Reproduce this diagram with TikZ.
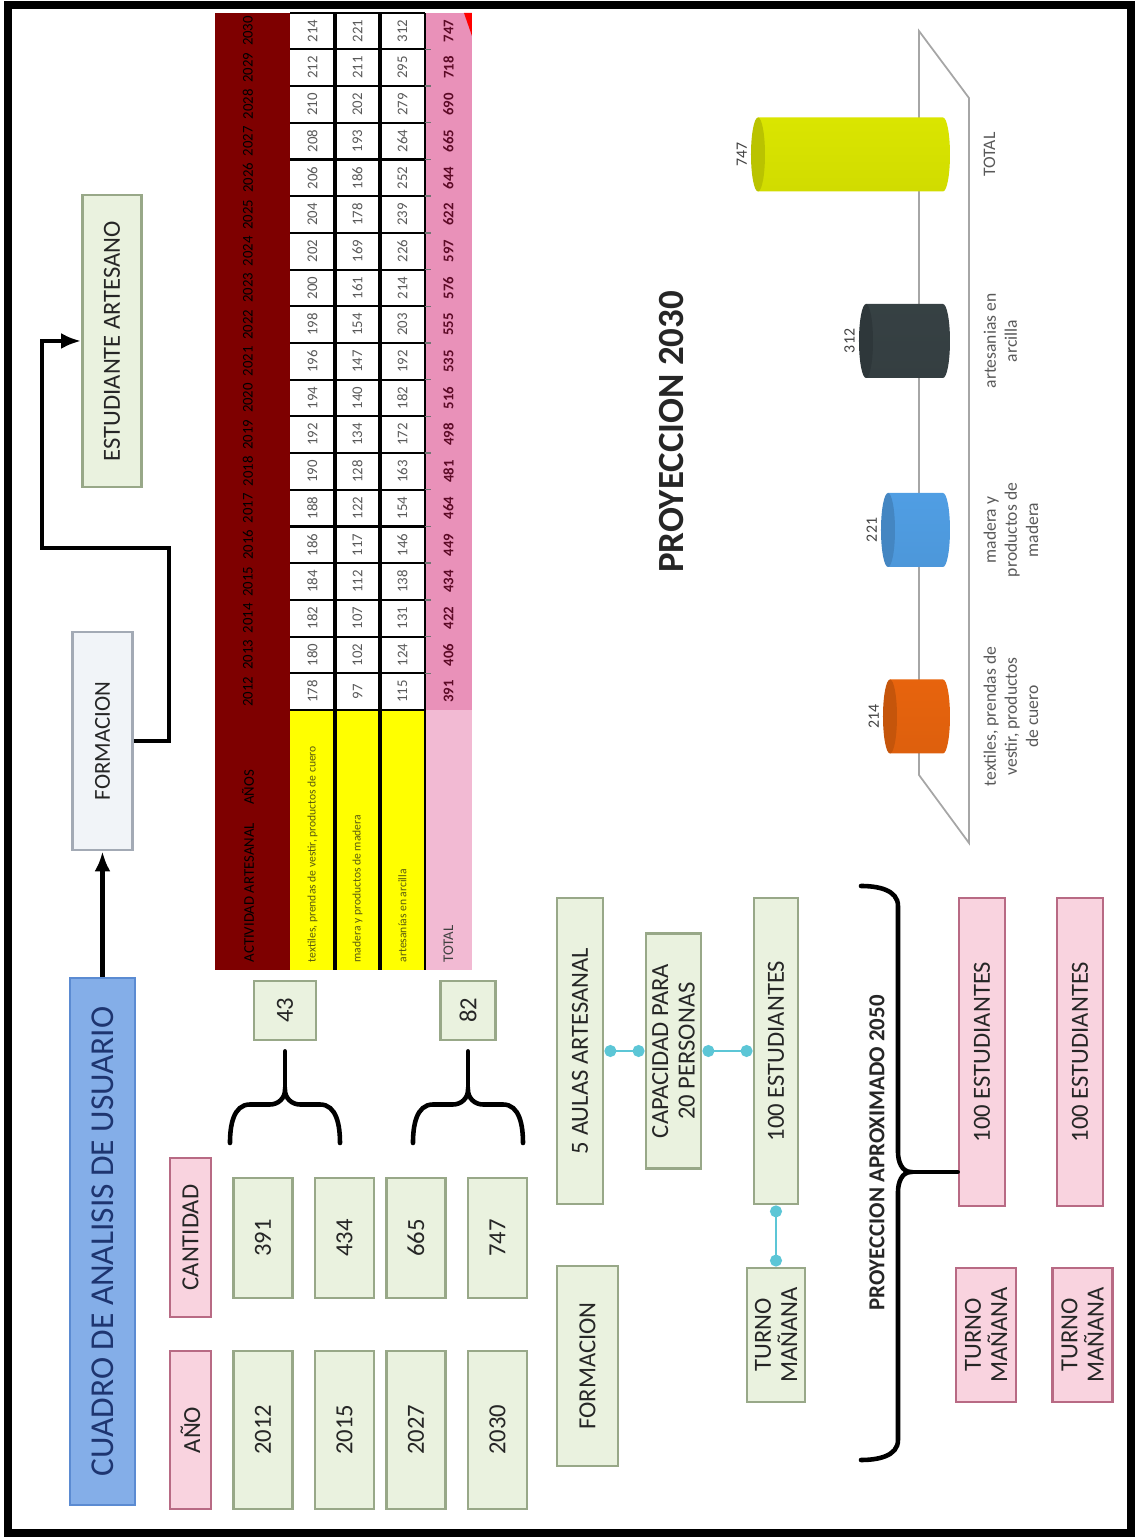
\documentclass[tikz,border=0pt]{standalone}
\usepackage{fontspec}
\setmainfont{Carlito}
\usetikzlibrary{arrows.meta}

\definecolor{azulF}{HTML}{84AEE8}
\definecolor{azulB}{HTML}{5B8BD2}
\definecolor{azulT}{HTML}{1E3570}
\definecolor{verdeF}{HTML}{EAF2DF}
\definecolor{verdeB}{HTML}{98A888}
\definecolor{rosaF}{HTML}{F9D3DF}
\definecolor{rosaB}{HTML}{B86A84}
\definecolor{grisF}{HTML}{F1F4F8}
\definecolor{grisB}{HTML}{A3AAB5}
\definecolor{vino}{HTML}{7E0000}
\definecolor{amarillo}{HTML}{FFFF00}
\definecolor{oliva}{HTML}{5A5A10}
\definecolor{rosaT}{HTML}{E991B9}
\definecolor{rosaL}{HTML}{F2BAD3}
\definecolor{granate}{HTML}{5C0A26}
\definecolor{cian}{HTML}{5CC6D6}
\definecolor{naranja}{HTML}{F66A0E}
\definecolor{celeste}{HTML}{55A8F2}
\definecolor{pizarra}{HTML}{3A4548}
\definecolor{lima}{HTML}{E8F400}

\tikzset{
  caja/.style={draw, line width=0.8pt, inner sep=1pt, align=center, text=black!85,
    font=\fontsize{7}{7.5}\selectfont},
  verde/.style={caja, fill=verdeF, draw=verdeB},
  rosa/.style={caja, fill=rosaF, draw=rosaB},
  flecha/.style={line width=1.2pt, -{Latex[length=2mm,width=1.6mm]}},
  enlace/.style={cian, line width=0.6pt, {Circle[length=1.2mm]}-{Circle[length=1.2mm]}},
  llave/.style={line width=1.3pt, line cap=round},
  celda/.style={font=\fontsize{4.2}{4.2}\selectfont, text=black!65, inner sep=0pt},
}

\begin{document}
\begin{tikzpicture}[rotate=90, transform shape]
\useasboundingbox (0,0) rectangle (15.38,11.38);
\draw[line width=2pt] (0.05,0.07) rectangle (15.33,11.30);

% cabecera
\node[caja, fill=azulF, draw=azulB, text=azulT, minimum width=5.27cm, minimum height=0.65cm,
  font=\fontsize{9.5}{10}\selectfont] (titulo) at (2.965,10.355) {CUADRO DE ANALISIS DE USUARIO};
\node[caja, fill=grisF, draw=grisB, minimum width=2.18cm, minimum height=0.6cm,
  font=\fontsize{6.5}{7}\selectfont] (form1) at (7.97,10.355) {FORMACION};
\node[verde, minimum width=2.92cm, minimum height=0.59cm] (estud) at (11.97,10.26) {ESTUDIANTE ARTESANO};
\coordinate (codo) at (9.90,10.96);
\draw[flecha] (titulo.east) -- (form1.west);
\draw[flecha] (form1.south) -- ++(0,-0.35) -| (codo) -| (estud.north);

% tabla
\fill[vino] (5.68,8.48) rectangle (15.25,9.23);
\fill[amarillo] (5.68,7.13) rectangle (8.28,8.48);
\fill[white] (8.28,7.13) rectangle (15.25,8.48);
\fill[rosaL] (5.68,6.66) rectangle (8.28,7.13);
\fill[rosaT] (8.28,6.66) rectangle (15.25,7.13);
\foreach \y in {7.58,8.03}
  \draw[line width=1pt] (5.68,\y) -- (15.25,\y);
\draw[line width=0.6pt] (5.68,7.13) -- (15.25,7.13);
\foreach \k in {0,...,19}
  \draw[line width=0.6pt] ({8.28+0.367*\k},7.13) -- ({8.28+0.367*\k},8.48);
\foreach \k in {1,...,18}
  \draw[black!55, line width=0.4pt] ({8.28+0.367*\k},7.13) -- ++(0,-0.06);
\fill[red] (15.25,6.66) -- (15.25,6.74) -- (15.02,6.66) -- cycle;

\node[celda, text=black, anchor=west] at (5.75,8.9) {ACTIVIDAD ARTESANAL \quad AÑOS};
\foreach \yr [count=\k from 0] in {2012,...,2030}
  \node[celda, text=black] at ({8.4635+0.367*\k},8.9) {\yr};
\node[celda, text=oliva, anchor=west, font=\fontsize{3.3}{3.3}\selectfont] at (5.75,8.255)
  {textiles, prendas de vestir, productos de cuero};
\node[celda, text=oliva, anchor=west, font=\fontsize{3.3}{3.3}\selectfont] at (5.75,7.805)
  {madera y productos de madera};
\node[celda, text=oliva, anchor=west, font=\fontsize{3.3}{3.3}\selectfont] at (5.75,7.355)
  {artesanías en arcilla};
\node[celda, text=black!75, anchor=west] at (5.75,6.895) {TOTAL};
\foreach \val [count=\k from 0] in {178,180,182,184,186,188,190,192,194,196,198,200,202,204,206,208,210,212,214}
  \node[celda] at ({8.4635+0.367*\k},8.255) {\val};
\foreach \val [count=\k from 0] in {97,102,107,112,117,122,128,134,140,147,154,161,169,178,186,193,202,211,221}
  \node[celda] at ({8.4635+0.367*\k},7.805) {\val};
\foreach \val [count=\k from 0] in {115,124,131,138,146,154,163,172,182,192,203,214,226,239,252,264,279,295,312}
  \node[celda] at ({8.4635+0.367*\k},7.355) {\val};
\foreach \val [count=\k from 0] in {391,406,422,434,449,464,481,498,516,535,555,576,597,622,644,665,690,718,747}
  \node[celda, text=granate] at ({8.4635+0.367*\k},6.895) {\textbf{\val}};

% anio y cantidad
\node[rosa, minimum width=1.58cm, minimum height=0.41cm] (anio) at (1.08,9.475) {AÑO};
\node[rosa, minimum width=1.59cm, minimum height=0.41cm] (cant) at (3.005,9.475) {CANTIDAD};
\foreach \yr/\num/\y in {2012/391/8.75, 2015/434/7.935, 2027/665/7.22, 2030/747/6.405}{
  \node[verde, minimum width=1.58cm, minimum height=0.59cm] (a\yr) at (1.08,\y) {\yr};
  \node[verde, minimum width=1.2cm, minimum height=0.59cm] (c\num) at (3.0,\y) {\num};
}
\node[verde, minimum width=0.59cm, minimum height=0.62cm] (n43) at (5.275,8.53) {43};
\node[verde, minimum width=0.59cm, minimum height=0.55cm] (n82) at (5.275,6.70) {82};
\foreach \ym/\caja in {8.53/n43, 6.70/n82}{
  \draw[llave] (3.95,{\ym+0.55}) to[out=0,in=90] (4.335,{\ym+0.35}) -- (4.335,{\ym+0.15})
    to[out=-90,in=180] (4.48,\ym) to[out=180,in=90] (4.335,{\ym-0.15}) -- (4.335,{\ym-0.35})
    to[out=-90,in=0] (3.95,{\ym-0.55});
  \draw[llave, shorten >=0.1cm] (4.48,\ym) -- (\caja.west);
}

% aulas
\node[verde, minimum width=3.06cm, minimum height=0.46cm] (aulas) at (4.87,5.58) {5 AULAS ARTESANAL};
\node[verde, minimum width=2.0cm, minimum height=0.61cm] (form2) at (1.72,5.505) {FORMACION};
\node[verde, minimum width=2.35cm, minimum height=0.55cm] (capac) at (4.87,4.645) {CAPACIDAD PARA\\20 PERSONAS};
\node[verde, minimum width=3.06cm, minimum height=0.44cm] (est1) at (4.87,3.62) {100 ESTUDIANTES};
\node[verde, minimum width=1.34cm, minimum height=0.58cm] (turno1) at (2.03,3.62) {TURNO\\MAÑANA};
\draw[enlace] (aulas) -- (capac);
\draw[enlace] (capac) -- (est1);
\draw[enlace] (est1) -- (turno1);

% proyeccion 2050
\node[font=\bfseries\fontsize{6.5}{7}\selectfont, text=black!85] (proy2050) at (3.85,2.61) {PROYECCION APROXIMADO 2050};
\node[rosa, minimum width=3.08cm, minimum height=0.46cm] (est2) at (4.86,1.56) {100 ESTUDIANTES};
\node[rosa, minimum width=3.08cm, minimum height=0.46cm] (est3) at (4.86,0.58) {100 ESTUDIANTES};
\node[rosa, minimum width=1.34cm, minimum height=0.60cm] (turno2) at (2.03,1.52) {TURNO\\MAÑANA};
\node[rosa, minimum width=1.34cm, minimum height=0.60cm] (turno3) at (2.03,0.555) {TURNO\\MAÑANA};
\coordinate (pico) at (3.66,2.27);
\draw[llave] (0.78,2.77) to[out=-90,in=180] (0.98,2.40) -- (3.46,2.40) to[out=0,in=90] (pico)
  to[out=90,in=180] (3.86,2.40) -- (6.32,2.40) to[out=0,in=-90] (6.52,2.77);
\draw[llave] (pico) -- (pico |- est2.north);

% grafico 2030
\node[font=\bfseries\fontsize{10.5}{11}\selectfont, text=black!85] (proy2030) at (11.06,4.66) {PROYECCION 2030};
\draw[black!35, line width=0.5pt] (7.63,2.19) -- (15.07,2.19) -- (14.40,1.69) -- (6.95,1.69) -- cycle;
\foreach \bx/\bt/\bv/\bc/\bl in {8.215/2.48/214/naranja/{textiles, prendas de\\vestir, productos\\de cuero},
    10.08/2.50/221/celeste/{madera y\\productos de\\madera},
    11.97/2.72/312/pizarra/{artesanias en\\arcilla},
    13.835/3.80/747/lima/{TOTAL}}{
  \shade[top color=\bc!94!black, middle color=\bc, bottom color=\bc!90!black]
    ({\bx-0.37},\bt) -- ({\bx-0.37},1.95) arc[start angle=180, end angle=360, x radius=0.37, y radius=0.07]
    -- ({\bx+0.37},\bt) -- cycle;
  \fill[\bc!80!black] (\bx,\bt) ellipse[x radius=0.37, y radius=0.07];
  \node[font=\fontsize{4.5}{5}\selectfont, text=black!75, anchor=south, inner sep=1pt] at (\bx,{\bt+0.07}) {\bv};
  \node[font=\fontsize{5}{6}\selectfont, text=black!65, align=center, anchor=north, inner sep=0pt] at (\bx,1.55) {\bl};
}
\end{tikzpicture}
\end{document}
